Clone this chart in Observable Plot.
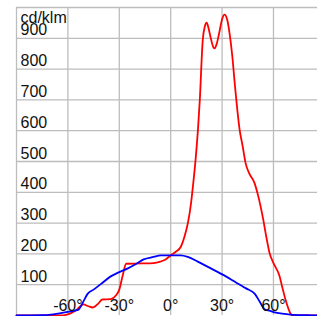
<!DOCTYPE html>
<html><head><meta charset="utf-8">
<script src="https://cdn.jsdelivr.net/npm/d3@7"></script>
<script src="https://cdn.jsdelivr.net/npm/@observablehq/plot@0.6"></script>
<style>body{margin:0;background:#fff;}svg{display:block;}</style>
</head><body>
<div id="chart"></div>
<script>
const unitLabel = "cd/klm";
const xTicks = [-60, -30, 0, 30, 60];
const xGrid = [-90, -60, -30, 0, 30, 60];
const yTicks = [100, 200, 300, 400, 500, 600, 700, 800, 900];
const yGrid = [100, 200, 300, 400, 500, 600, 700, 800, 900, 1000];

const redAngles = [-90,-65,-60,-55,-51,-48,-45.5,-42,-40,-35,-32,-30,-28,-26,-17.5,-10,-6,-3,0,3,6,8,10,12,13,14.6,16,17,18.7,20,21,22,23.3,25,25.7,27,28.6,30,31.5,33,34.4,36,37.4,40.3,42,43.8,46,49,51,53.7,56,57.8,60,63.6,65,67,70,71,86];
const redValues = [0,0,4,18,36,30,26,40,52,53,65,84,130,168,169,170,175,182,195,207,224,255,299,370,420,510,610,700,893,940,951,935,903,870,867,885,925,962,977,960,915,840,753,601,550,493,460,429,390,321,250,201,170,127,95,52,6,0,0];

const blueAngles = [-90,-75,-70,-60,-54,-51,-48.4,-45,-41,-35,-30,-25,-20,-15.8,-10,-5.8,0,5.8,10,15.8,22,29.2,35,39.1,44,49,52,55,58,60.7,65,70,80,86];
const blueValues = [0,1,3,12,18,45,71,84,101,127,141,153,168,182,190,195,195,195,190,175,157,136,118,104,88,71,45,19,15,10,6,3,1,0];

const red = redAngles.map((a, i) => ({a, v: redValues[i]}));
const blue = blueAngles.map((a, i) => ({a, v: blueValues[i]}));

const font = "'Liberation Sans', Arial, sans-serif";
const chart = Plot.plot({
  width: 317, height: 316,
  marginLeft: 16, marginRight: 0, marginTop: 7, marginBottom: 1,
  x: {domain: [-90, 85.7], axis: null},
  y: {domain: [0, 1000], axis: null},
  style: {fontFamily: font, background: "#fff"},
  marks: [
    Plot.ruleY(yGrid, {stroke: "#bdbdbd", strokeWidth: 1.3}),
    Plot.ruleX(xGrid, {stroke: "#bdbdbd", strokeWidth: 1.3}),
    Plot.line(red, {x: "a", y: "v", stroke: "#ff0000", strokeWidth: 1.8, curve: "monotone-x"}),
    Plot.line(blue, {x: "a", y: "v", stroke: "#0000ff", strokeWidth: 1.8, curve: "monotone-x"}),
    Plot.text(yTicks, {x: -90, y: d => d, text: d => String(d), textAnchor: "start", lineAnchor: "middle", dx: 4, dy: -8, fontSize: 16, fill: "#111"}),
    Plot.text(xTicks, {x: d => d, y: 0, text: d => d + "°", textAnchor: "middle", lineAnchor: "middle", dy: -10, fontSize: 16, fill: "#111"}),
    Plot.text([unitLabel], {x: -90, y: 1000, text: d => d, textAnchor: "start", lineAnchor: "top", dx: 4, dy: 4, fontSize: 16, fill: "#111"})
  ]
});
document.getElementById("chart").append(chart);
</script>
</body></html>
